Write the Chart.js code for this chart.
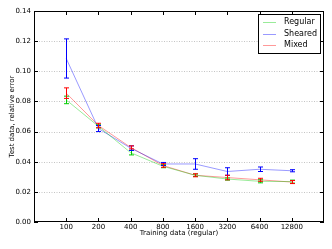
<!DOCTYPE html>
<html><head><meta charset="utf-8">
<script src="https://cdn.jsdelivr.net/npm/chart.js@4"></script>
<style>html,body{margin:0;padding:0;background:#fff}canvas{display:block}</style>
</head><body>
<canvas id="c" width="332" height="249"></canvas>
<script>
const categories = ['100','200','400','800','1600','3200','6400','12800'];
const yTicks = [0, 0.02, 0.04, 0.06, 0.08, 0.10, 0.12, 0.14];
const seriesNames = ['Regular','Sheared','Mixed'];
const regular = [0.081, 0.0635, 0.046, 0.037, 0.031, 0.0285, 0.027, 0.0268];
const regularErr = [0.0025, 0.001, 0.0015, 0.001, 0.0008, 0.0007, 0.001, 0.001];
const sheared = [0.1085, 0.062, 0.049, 0.0385, 0.0385, 0.0335, 0.035, 0.034];
const shearedErr = [0.013, 0.002, 0.0015, 0.001, 0.0035, 0.0025, 0.0015, 0.0007];
const mixed = [0.0855, 0.064, 0.0495, 0.0375, 0.031, 0.0295, 0.028, 0.0265];
const mixedErr = [0.0035, 0.0015, 0.001, 0.0012, 0.001, 0.0015, 0.001, 0.001];

const FONT = 'DejaVu Sans';
const colors = {Regular:'#00cc00', Sheared:'#0000ff', Mixed:'#ff0000'};
const light = {Regular:'rgba(0,204,0,0.4)', Sheared:'rgba(0,0,255,0.4)', Mixed:'rgba(255,0,0,0.4)'};

function pts(arr){ return arr.map((v,i)=>({x:i+1, y:v})); }
const seriesData = {Regular:[regular,regularErr], Sheared:[sheared,shearedErr], Mixed:[mixed,mixedErr]};

const datasets = seriesNames.map(n => ({
  label:n, data:pts(seriesData[n][0]), errs:seriesData[n][1],
  borderColor:light[n], backgroundColor:light[n], borderWidth:1,
  pointRadius:0, tension:0, fill:false
}));

const deco = {
  id:'deco',
  beforeDatasetsDraw(chart){
    const {ctx, chartArea:a, scales:{x,y}} = chart;
    ctx.save();
    ctx.strokeStyle = '#c4c4c4'; ctx.lineWidth = 1; ctx.setLineDash([1,1.5]);
    yTicks.forEach(v => {
      if (v===0 || v===0.14) return;
      const py = Math.round(y.getPixelForValue(v)) + 0.5;
      ctx.beginPath(); ctx.moveTo(a.left, py); ctx.lineTo(a.right, py); ctx.stroke();
    });
    ctx.restore();
  },
  afterDatasetsDraw(chart){
    const {ctx, chartArea:a, scales:{x,y}} = chart;
    ctx.save();
    chart.data.datasets.forEach(ds => {
      ctx.strokeStyle = colors[ds.label]; ctx.lineWidth = 1;
      ds.data.forEach((p,i) => {
        const px = Math.round(x.getPixelForValue(p.x)) + 0.5;
        const y1 = y.getPixelForValue(p.y + ds.errs[i]);
        const y2 = y.getPixelForValue(p.y - ds.errs[i]);
        ctx.beginPath();
        ctx.moveTo(px, y1); ctx.lineTo(px, y2);
        ctx.moveTo(px-2.5, y1); ctx.lineTo(px+2.5, y1);
        ctx.moveTo(px-2.5, y2); ctx.lineTo(px+2.5, y2);
        ctx.stroke();
      });
    });
    ctx.strokeStyle = '#000'; ctx.lineWidth = 1;
    ctx.strokeRect(a.left+0.5, a.top+0.5, a.right-a.left-1, a.bottom-a.top-1);
    ctx.beginPath();
    categories.forEach((c,i) => {
      const px = Math.round(x.getPixelForValue(i+1)) + 0.5;
      ctx.moveTo(px, a.bottom); ctx.lineTo(px, a.bottom-4);
      ctx.moveTo(px, a.top); ctx.lineTo(px, a.top+4);
    });
    yTicks.forEach(v => {
      const py = Math.round(y.getPixelForValue(v)) + 0.5;
      ctx.moveTo(a.left, py); ctx.lineTo(a.left+4, py);
      ctx.moveTo(a.right, py); ctx.lineTo(a.right-4, py);
    });
    ctx.stroke();
    const lx = 258, ly = 14, lw = 62, lh = 39;
    ctx.fillStyle = '#fff';
    ctx.fillRect(lx, ly, lw, lh);
    ctx.strokeRect(lx+0.5, ly+0.5, lw, lh);
    ctx.font = '8px "' + FONT + '"';
    ctx.textBaseline = 'middle'; ctx.textAlign = 'left';
    seriesNames.forEach((n,i) => {
      const ry = ly + 8 + i*11.7;
      ctx.strokeStyle = light[n];
      ctx.beginPath(); ctx.moveTo(263, Math.round(ry)+0.5); ctx.lineTo(276, Math.round(ry)+0.5); ctx.stroke();
      ctx.fillStyle = '#000';
      ctx.fillText(n, 284, ry);
    });
    ctx.restore();
  }
};

new Chart(document.getElementById('c'), {
  type:'line',
  data:{datasets},
  plugins:[deco],
  options:{
    responsive:false, animation:false, devicePixelRatio:1,
    layout:{padding:{left:0, right:8, top:11, bottom:0}},
    plugins:{legend:{display:false}, tooltip:{enabled:false}},
    scales:{
      x:{type:'linear', min:0, max:9,
        afterFit:s=>{s.height=27;},
        grid:{display:false, drawTicks:false}, border:{display:false},
        ticks:{stepSize:1, autoSkip:false, maxRotation:0, padding:1, color:'#000',
          font:{family:FONT, size:7},
          callback:v => (v>=1 && v<=8) ? categories[v-1] : ''},
        title:{display:true, text:'Training data (regular)', color:'#000',
          font:{family:FONT, size:7}, padding:{top:0, bottom:11.5}}
      },
      y:{type:'linear', min:0, max:0.14,
        afterFit:s=>{s.width=34;},
        afterBuildTicks:s=>{s.ticks = yTicks.map(v=>({value:v}));},
        grid:{display:false, drawTicks:false}, border:{display:false},
        ticks:{padding:3, color:'#000', font:{family:FONT, size:7},
          callback:v => v.toFixed(2)},
        title:{display:true, text:'Test data, relative error', color:'#000',
          font:{family:FONT, size:7}, padding:{top:8, bottom:0}}
      }
    }
  }
});
</script>
</body></html>
